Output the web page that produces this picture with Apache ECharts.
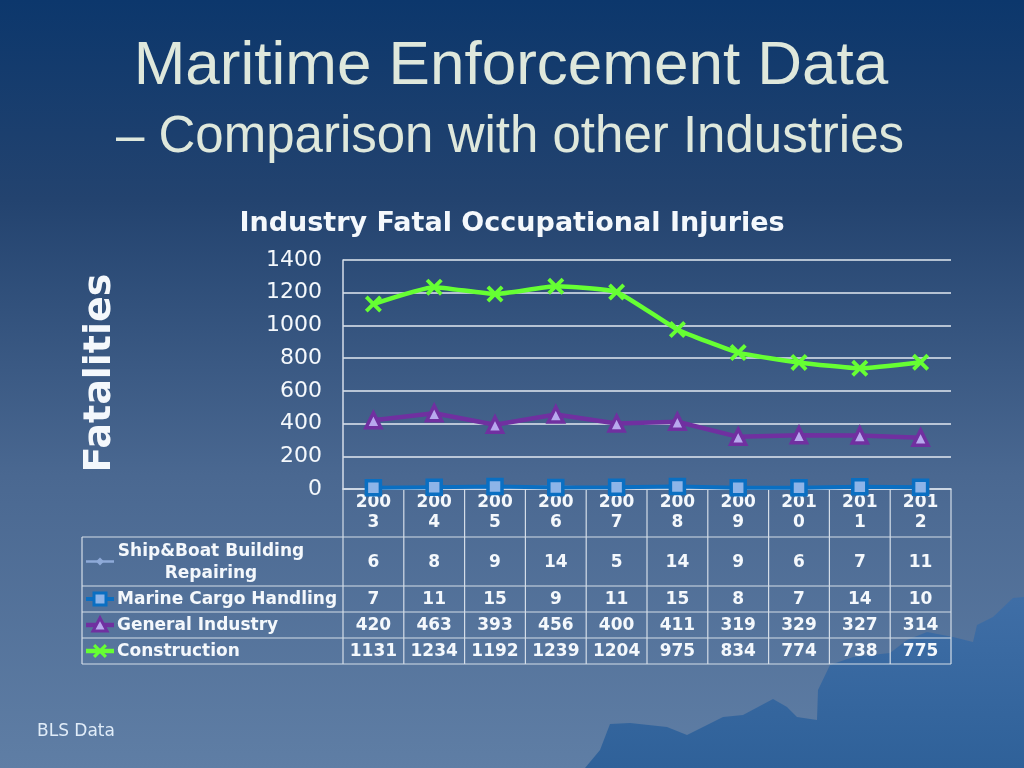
<!DOCTYPE html>
<html>
<head>
<meta charset="utf-8">
<script src="https://cdn.jsdelivr.net/npm/echarts@6/dist/echarts.min.js"></script>
<style>
html,body{margin:0;padding:0;}
body{width:1024px;height:768px;overflow:hidden;background:linear-gradient(to bottom,#0c376c 0%,#23436f 26%,#4a6891 62%,#5f7ea5 100%);}
#main{width:1024px;height:768px;}
</style>
</head>
<body>
<div id="main"></div>
<script>
const years = ['2003','2004','2005','2006','2007','2008','2009','2010','2011','2012'];
const seriesNames = ['Ship&Boat Building Repairing','Marine Cargo Handling','General Industry','Construction'];
const shipBoat = [6,8,9,14,5,14,9,6,7,11];
const marineCargo = [7,11,15,9,11,15,8,7,14,10];
const generalIndustry = [420,463,393,456,400,411,319,329,327,314];
const construction = [1131,1234,1192,1239,1204,975,834,774,738,775];
const yMin = 0, yMax = 1400, yStep = 200;

const FONT = '"DejaVu Sans", Verdana, sans-serif';
const TXT = '#f4f8fc';
const LINEC = '#d4dde8';
const xPts = [[0,1.6],[1.6,0],[5,3.4],[8.4,0],[10,1.6],[6.6,5],[10,8.4],[8.4,10],[5,6.6],[1.6,10],[0,8.4],[3.4,5]];
const xPath = 'path://M' + xPts.map(p => p[0] + ',' + p[1]).join(' L') + ' Z';

const chart = echarts.init(document.getElementById('main'), null, {renderer:'canvas'});
const option = {
  backgroundColor: 'transparent',
  animation: false,
  title: {
    text: 'Industry Fatal Occupational Injuries',
    left: 'center', top: 205,
    textStyle: {color: TXT, fontFamily: FONT, fontSize: 27, fontWeight: 'bold'}
  },
  grid: {left: 343, right: 73, top: 260, bottom: 279, containLabel: false},
  xAxis: {
    type: 'category', data: years, boundaryGap: true,
    axisLine: {show: true, lineStyle: {color: LINEC, width: 1.5}},
    axisTick: {show: false},
    axisLabel: {
      interval: 0, margin: 4, color: TXT, fontFamily: FONT, fontWeight: 'bold', fontSize: 17, lineHeight: 20,
      formatter: v => v.slice(0,3) + '\n' + v.slice(3)
    },
    splitLine: {show: false}
  },
  yAxis: {
    type: 'value', min: yMin, max: yMax, interval: yStep,
    axisLine: {show: true, lineStyle: {color: LINEC, width: 1.5}},
    axisTick: {show: false},
    axisLabel: {color: TXT, fontFamily: FONT, fontSize: 22, margin: 21, formatter: v => String(v)},
    splitLine: {show: true, lineStyle: {color: '#e2e8f0', width: 1.5}}
  },
  series: [
    {name: seriesNames[0], type: 'line', data: shipBoat, symbol: 'diamond', symbolSize: 7,
     lineStyle: {color: '#8eaad8', width: 2.5}, itemStyle: {color: '#8eaad8'}, z: 2},
    {name: seriesNames[1], type: 'line', data: marineCargo, symbol: 'rect', symbolSize: 14,
     lineStyle: {color: '#0a6fc2', width: 4}, itemStyle: {color: '#8db4e8', borderColor: '#0a6fc2', borderWidth: 3.5}, z: 3},
    {name: seriesNames[2], type: 'line', data: generalIndustry, symbol: 'triangle', symbolSize: 15,
     lineStyle: {color: '#7030a0', width: 4.5}, itemStyle: {color: '#b8a8ee', borderColor: '#7030a0', borderWidth: 3.5}, z: 4},
    {name: seriesNames[3], type: 'line', data: construction, symbol: xPath, symbolSize: 17, smooth: 0.15,
     lineStyle: {color: '#66ff33', width: 4.5}, itemStyle: {color: '#66ff33'}, z: 5}
  ]
};
chart.setOption(option);

// ---- build table, legend keys, titles as graphics, positioned from the axes ----
const cx = years.map((y,i) => chart.convertToPixel({xAxisIndex:0}, i));
const colW = cx[1] - cx[0];
const y0 = chart.convertToPixel({yAxisIndex:0}, 0);
const xL = cx[0] - colW/2, xR = cx[cx.length-1] + colW/2;
const tableLeft = 82, keyX = 100, textX = 117;
const rowB = [y0, y0+48, y0+97, y0+123, y0+149, y0+175];
const g = [];

// iceberg silhouette
const berg = [[585,768],[600,750],[610,724],[630,723],[667,727],[687,735],[723,717],[743,715],[773,699],[787,707],[797,717],[817,720],[818,690],[830,665],[853,657],[890,653],[907,640],[927,632],[953,637],[973,642],[977,625],[993,617],[1013,598],[1024,597],[1024,768]];
g.push({type:'polygon', z:-10, shape:{points: berg},
  style:{fill: new echarts.graphic.LinearGradient(0,0,0,1,[{offset:0,color:'#3f6ea6'},{offset:1,color:'#2f6199'}])}});

// slide titles
g.push({type:'text', z:10, style:{text:'Maritime Enforcement Data', x:511, y:36, align:'center', verticalAlign:'top',
  font:'62px "Liberation Sans", Arial, sans-serif', fill:'#dfe8dc', shadowColor:'rgba(0,0,0,0.8)', shadowOffsetX:2, shadowOffsetY:2, shadowBlur:2}});
g.push({type:'text', z:10, style:{text:'– Comparison with other Industries', x:510, y:112, align:'center', verticalAlign:'top',
  font:'51px "Liberation Sans", Arial, sans-serif', fill:'#dfe8dc', shadowColor:'rgba(0,0,0,0.8)', shadowOffsetX:2, shadowOffsetY:2, shadowBlur:2}});
// axis title
g.push({type:'text', z:10, x:100, y:373, rotation: Math.PI/2, style:{text:'Fatalities', x:0, y:0, align:'center', verticalAlign:'middle',
  font:'bold 38px ' + FONT, fill:TXT}});
// footnote
g.push({type:'text', z:10, style:{text:'BLS Data', x:37, y:732, align:'left', verticalAlign:'middle', font:'17px ' + FONT, fill:'#e0ecf8'}});

// table lines
const ls = {stroke: LINEC, lineWidth: 1.2};
for (let k = 0; k <= years.length; k++) {
  const x = xL + k*colW;
  g.push({type:'line', z:1, shape:{x1:x, y1:rowB[0], x2:x, y2:rowB[5]}, style:ls});
}
g.push({type:'line', z:1, shape:{x1:tableLeft, y1:rowB[1], x2:tableLeft, y2:rowB[5]}, style:ls});
for (let r = 1; r <= 5; r++) {
  g.push({type:'line', z:1, shape:{x1:tableLeft, y1:rowB[r], x2:xR, y2:rowB[r]}, style:ls});
}

// cell values
const rows = [shipBoat, marineCargo, generalIndustry, construction];
const ym = r => (rowB[r+1] + rowB[r+2]) / 2;
rows.forEach((arr, r) => {
  arr.forEach((v, i) => {
    g.push({type:'text', z:10, style:{text:String(v), x:cx[i], y:ym(r)+1, align:'center', verticalAlign:'middle',
      font:'bold 17px ' + FONT, fill:TXT}});
  });
});

// row labels
const nm0 = seriesNames[0].split(' ');
g.push({type:'text', z:10, style:{text: nm0[0] + ' ' + nm0[1] + '\n' + nm0[2], x:211, y:ym(0)+1, align:'center', verticalAlign:'middle',
  font:'bold 17px ' + FONT, fill:TXT, lineHeight:22}});
for (let r = 1; r < 4; r++) {
  g.push({type:'text', z:10, style:{text: seriesNames[r], x:textX, y:ym(r)+1, align:'left', verticalAlign:'middle',
    font:'bold 17px ' + FONT, fill:TXT}});
}

// legend keys
const kl = (r, color, w) => g.push({type:'line', z:5, shape:{x1:86, y1:ym(r), x2:114, y2:ym(r)}, style:{stroke:color, lineWidth:w}});
kl(0, '#8eaad8', 2.5);
g.push({type:'polygon', z:6, shape:{points:[[keyX,ym(0)-4],[keyX+4,ym(0)],[keyX,ym(0)+4],[keyX-4,ym(0)]]}, style:{fill:'#8eaad8'}});
kl(1, '#0a6fc2', 4);
g.push({type:'rect', z:6, shape:{x:keyX-6, y:ym(1)-6, width:12, height:12}, style:{fill:'#8db4e8', stroke:'#0a6fc2', lineWidth:3}});
kl(2, '#7030a0', 4.5);
g.push({type:'polygon', z:6, shape:{points:[[keyX,ym(2)-7],[keyX+7,ym(2)+6],[keyX-7,ym(2)+6]]}, style:{fill:'#b8a8ee', stroke:'#7030a0', lineWidth:3}});
kl(3, '#66ff33', 4.5);
g.push({type:'polygon', z:6, shape:{points: xPts.map(p => [keyX-7 + p[0]*1.4, ym(3)-7 + p[1]*1.4])}, style:{fill:'#66ff33'}});

chart.setOption({graphic: {elements: g}});
</script>
</body>
</html>
